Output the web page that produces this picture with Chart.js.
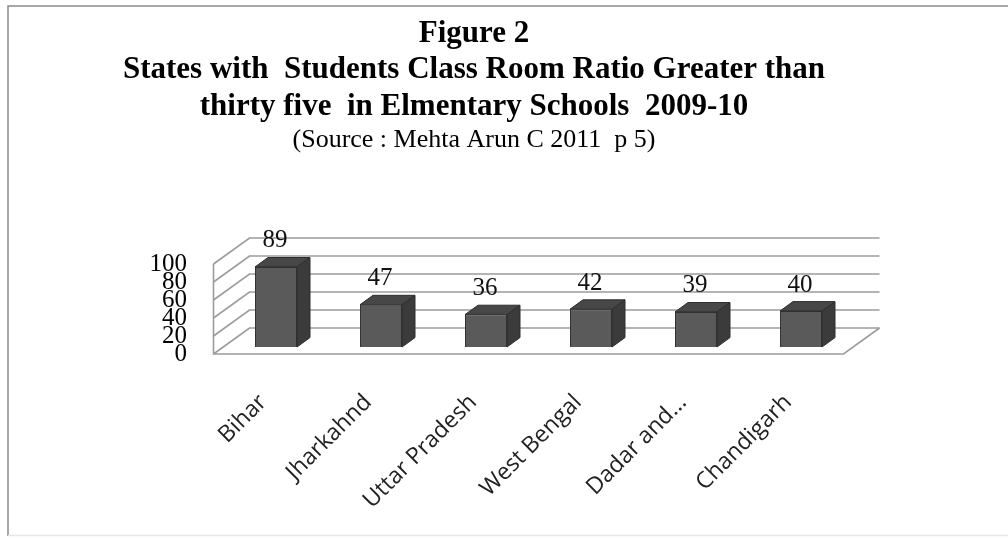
<!DOCTYPE html>
<html><head><meta charset="utf-8">
<script src="https://cdn.jsdelivr.net/npm/chart.js@4.4.1/dist/chart.umd.min.js"></script>
<style>html,body{margin:0;padding:0;background:#fff;} #wrap{position:relative;width:1008px;height:539px;}</style>
</head><body><div id="wrap"><canvas id="c" width="1008" height="539"></canvas></div>
<script>
const categories = ['Bihar', 'Jharkahnd', 'Uttar Pradesh', 'West Bengal', 'Dadar and...', 'Chandigarh'];
const ratioValues = [89, 47, 36, 42, 39, 40];
const yTicks = [0, 20, 40, 60, 80, 100];
const titleLines = ['Figure 2', 'States with  Students Class Room Ratio Greater than', 'thirty five  in Elmentary Schools  2009-10'];
const sourceLine = '(Source : Mehta Arun C 2011  p 5)';

// 3D geometry (style)
const FRONT = {dx: -10, dy: 7};
const BACK = {dx: 26, dy: -19};
const BAR_DEPTH = {dx: 13, dy: -9.4};
const GRID_COLOR = '#9c9c9c';

const framePlugin = {
  id: 'frame',
  beforeDraw(chart) {
    const ctx = chart.ctx;
    ctx.save();
    ctx.fillStyle = '#fff';
    ctx.fillRect(0, 0, chart.width, chart.height);
    ctx.strokeStyle = '#8a8a8a';
    ctx.lineWidth = 1.5;
    ctx.beginPath();
    ctx.moveTo(8, 536); ctx.lineTo(8, 6); ctx.lineTo(1008, 6);
    ctx.stroke();
    ctx.strokeStyle = '#e6e6e6';
    ctx.beginPath(); ctx.moveTo(8, 535.5); ctx.lineTo(1008, 535.5); ctx.stroke();
    ctx.restore();
  }
};

const boxPlugin = {
  id: 'box3d',
  beforeDatasetsDraw(chart) {
    const ctx = chart.ctx, ca = chart.chartArea, ys = chart.scales.y;
    const xL = ca.left, xR = ca.right;
    ctx.save();
    ctx.strokeStyle = GRID_COLOR;
    ctx.lineWidth = 1.6;
    yTicks.forEach(v => {
      const yb = ys.getPixelForValue(v);
      ctx.beginPath();
      ctx.moveTo(xL + FRONT.dx, yb + FRONT.dy);
      ctx.lineTo(xL + BACK.dx, yb + BACK.dy);
      ctx.lineTo(xR + BACK.dx, yb + BACK.dy);
      ctx.stroke();
    });
    const y0 = ys.getPixelForValue(0), y100 = ys.getPixelForValue(100);
    ctx.beginPath();
    ctx.moveTo(xL + FRONT.dx, y100 + FRONT.dy);
    ctx.lineTo(xL + FRONT.dx, y0 + FRONT.dy);
    ctx.lineTo(xR + FRONT.dx, y0 + FRONT.dy);
    ctx.lineTo(xR + BACK.dx, y0 + BACK.dy);
    ctx.stroke();
    ctx.restore();
  },
  afterDatasetsDraw(chart) {
    const ctx = chart.ctx;
    const meta = chart.getDatasetMeta(0);
    ctx.save();
    meta.data.forEach((bar, i) => {
      const p = bar.getProps(['x', 'y', 'base', 'width'], true);
      const l = p.x - p.width / 2, r = p.x + p.width / 2, t = p.y, b = p.base;
      const dx = BAR_DEPTH.dx, dy = BAR_DEPTH.dy;
      ctx.lineWidth = 1;
      ctx.strokeStyle = '#2e2e2e';
      ctx.fillStyle = '#474747';
      ctx.beginPath();
      ctx.moveTo(l, t); ctx.lineTo(l + dx, t + dy); ctx.lineTo(r + dx, t + dy); ctx.lineTo(r, t); ctx.closePath();
      ctx.fill(); ctx.stroke();
      ctx.fillStyle = '#3b3b3b';
      ctx.beginPath();
      ctx.moveTo(r, t); ctx.lineTo(r + dx, t + dy); ctx.lineTo(r + dx, b + dy); ctx.lineTo(r, b); ctx.closePath();
      ctx.fill(); ctx.stroke();
      ctx.fillStyle = '#111';
      ctx.font = '25px "Liberation Serif"';
      ctx.textAlign = 'center';
      ctx.textBaseline = 'middle';
      ctx.fillText(String(ratioValues[i]), p.x - 1, t - 26);
    });
    ctx.restore();
  }
};

new Chart(document.getElementById('c'), {
  type: 'bar',
  data: {
    labels: categories,
    datasets: [{
      data: ratioValues,
      backgroundColor: '#5a5a5a',
      borderColor: '#333333',
      borderWidth: 1,
      barPercentage: 0.4,
      categoryPercentage: 1.0
    }]
  },
  options: {
    responsive: false,
    animation: false,
    devicePixelRatio: 1,
    layout: {padding: {left: 0, right: 60, top: 0, bottom: 0}},
    plugins: {
      legend: {display: false},
      tooltip: {enabled: false},
      title: {
        display: true,
        text: titleLines,
        color: '#000',
        font: {family: '"Liberation Serif"', size: 31, weight: 'bold', lineHeight: 1.17},
        padding: {top: 16, bottom: 0}
      },
      subtitle: {
        display: true,
        text: sourceLine,
        color: '#000',
        font: {family: '"Liberation Serif"', size: 26, weight: 'normal', lineHeight: 1.2},
        padding: {top: 0, bottom: 101}
      }
    },
    scales: {
      x: {
        grid: {display: false, drawTicks: false},
        border: {display: false},
        ticks: {
          autoSkip: false, minRotation: 45, maxRotation: 45,
          padding: 42, labelOffset: -13,
          color: '#222', font: {family: '"Open Sans"', size: 23}
        },
        afterFit(s) { s.height = 192; }
      },
      y: {
        min: 0, max: 100,
        grid: {display: false, drawTicks: false},
        border: {display: false},
        afterBuildTicks(s) { s.ticks = yTicks.map(v => ({value: v})); },
        ticks: {
          autoSkip: false,
          padding: 36.5, labelOffset: 7,
          color: '#000', font: {family: '"Liberation Serif"', size: 25}
        },
        afterFit(s) { s.width = 223.5; }
      },
      yR: {
        type: 'linear', position: 'right', display: true,
        grid: {display: false, drawTicks: false},
        border: {display: false},
        ticks: {display: false},
        afterFit(s) { s.width = 94.5; }
      }
    }
  },
  plugins: [framePlugin, boxPlugin]
});
</script>
</body></html>
